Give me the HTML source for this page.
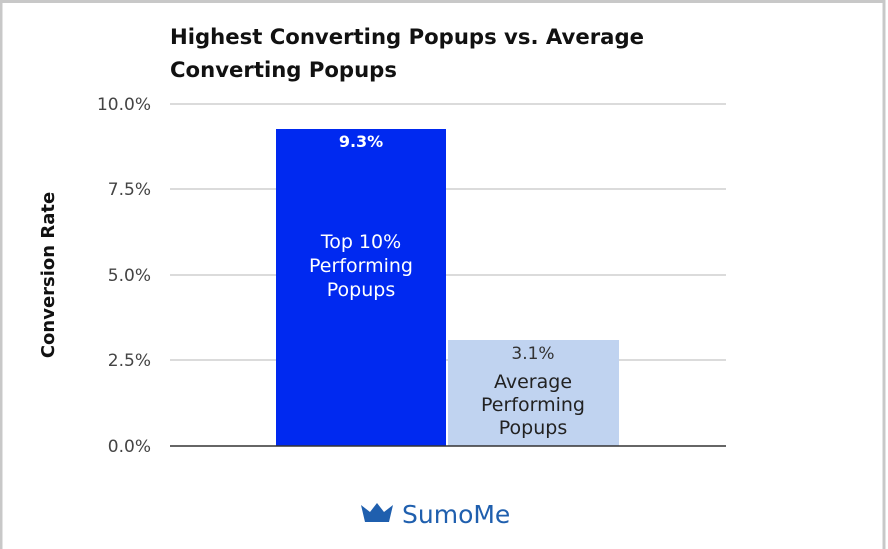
<!DOCTYPE html>
<html><head><style>body{margin:0;background:#fff}svg{display:block}</style></head><body>
<svg width="888" height="549" xmlns="http://www.w3.org/2000/svg" font-family="'DejaVu Sans', 'Liberation Sans', sans-serif">
<rect x="0" y="0" width="888" height="549" fill="#fff"/>
<rect x="1" y="1.5" width="883" height="560" fill="none" stroke="#c8c8c8" stroke-width="3"/>
<text x="170" y="44" font-size="21.2" font-weight="bold" fill="#111">Highest Converting Popups vs. Average</text>
<text x="170" y="77" font-size="21.2" font-weight="bold" fill="#111">Converting Popups</text>
<g stroke="#cfcfcf" stroke-width="1.5">
<line x1="170" y1="104" x2="726" y2="104"/><line x1="170" y1="189" x2="726" y2="189"/>
<line x1="170" y1="275" x2="726" y2="275"/><line x1="170" y1="360" x2="726" y2="360"/>
</g>
<g font-size="17" fill="#444" text-anchor="end">
<text x="151" y="110">10.0%</text><text x="151" y="195">7.5%</text><text x="151" y="281">5.0%</text>
<text x="151" y="366">2.5%</text><text x="151" y="452">0.0%</text>
</g>
<text transform="translate(54,275) rotate(-90)" text-anchor="middle" font-size="18" font-weight="bold" fill="#111">Conversion Rate</text>
<rect x="276" y="129" width="170" height="317" fill="#0029f0"/>
<rect x="448" y="340" width="171" height="106" fill="#c0d3f0"/>
<line x1="170" y1="446" x2="726" y2="446" stroke="#333" stroke-width="1.5"/>
<g text-anchor="middle" font-size="19">
<text x="361" y="147" fill="#fff" font-weight="bold" font-size="16">9.3%</text>
<text x="361" y="248" fill="#fff">Top 10%</text>
<text x="361" y="272" fill="#fff">Performing</text>
<text x="361" y="296" fill="#fff">Popups</text>
<text x="533" y="359" fill="#333" font-size="17">3.1%</text>
<text x="533" y="388" fill="#222">Average</text>
<text x="533" y="411" fill="#222">Performing</text>
<text x="533" y="434" fill="#222">Popups</text>
</g>
<path d="M361 505 L370 512 L377 503 L384 512 L393 505 L389 522 L365 522 Z" fill="#1f5fae"/>
<text x="402" y="523" font-size="25" fill="#1f5fae">SumoMe</text>
</svg>
</body></html>
